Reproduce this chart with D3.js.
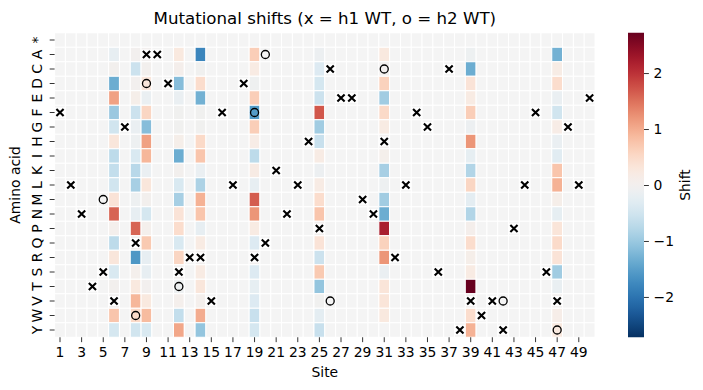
<!DOCTYPE html>
<html>
<head>
<meta charset="utf-8">
<script src="https://cdn.jsdelivr.net/npm/d3@7"></script>
<style>
  body { margin: 0; background: #fff; }
  text { font-family: "DejaVu Sans", sans-serif; fill: #000; }
</style>
</head>
<body>
<div id="chart"></div>
<script>
const width = 703, height = 390

const sites = [1, 2, 3, 4, 5, 6, 7, 8, 9, 10, 11, 12, 13, 14, 15, 16, 17, 18, 19, 20,
    21, 22, 23, 24, 25, 26, 27, 28, 29, 30, 31, 32, 33, 34, 35, 36, 37, 38, 39, 40,
    41, 42, 43, 44, 45, 46, 47, 48, 49, 50]
const siteTicks = [1, 3, 5, 7, 9, 11, 13, 15, 17, 19, 21, 23, 25, 27, 29, 31, 33, 35, 37, 39, 41, 43, 45, 47, 49]
const aminoAcids = ["*", "A", "C", "D", "E", "F", "G", "H", "I", "K", "L", "M", "N", "P", "Q", "R", "S", "T", "V", "W", "Y"]
const colorTicks = [-2, -1, 0, 1, 2]

// sites that have measured shifts, one column of values per site (rows in aminoAcids order)
const shiftSites = [6, 8, 9, 12, 14, 19, 25, 31, 39, 47]
const shiftValues = [
    [null, -0.2, 0.02, -1.35, 1.1, -1.0, -0.5, 0.3, -0.7, -0.65, -0.5, 0.35, 1.6, 0.05, -0.7, 0.3, -0.4, 0.02, 0, 0.75, -0.45],
    [null, 0, -0.55, 0, 0.1, -0.55, -0.15, -0.1, -0.4, -0.75, -0.9, -0.1, -0.2, 1.6, 0, -1.6, 0.05, 0.25, 0.9, 0.5, -0.5],
    [null, 0, 0.02, 0.3, -0.15, 0.55, -1.15, 1.1, 0.9, -0.15, 0.3, 0.02, -0.45, 0.05, 0.7, -0.2, -0.2, 0, 0.25, 0.85, -0.4],
    [null, 0.25, 0.07, -1.15, -0.15, -0.05, -0.03, 0.1, -1.35, 0.02, -0.4, -0.9, 0.35, 0.45, -0.4, 0.55, 0, -0.1, 0.05, -0.65, 1.05],
    [null, -1.8, -0.05, 0.45, -1.3, -0.05, -0.03, 0.5, 0.75, -0.15, -0.85, 0.95, 0.75, -0.2, 0.2, 0, 0.2, 0.3, 0.05, 1.0, -1.05],
    [null, 0.65, 0.2, -0.08, 0.65, -1.55, 0.65, 0.15, -0.7, 0.18, -0.2, 1.65, 1.2, 0.2, -0.35, 0, -0.35, -0.22, -0.35, -0.6, -0.45],
    [null, -0.12, -0.35, -0.45, -0.55, 1.7, -0.95, -0.6, 0.18, -0.12, 0.18, 0.45, 0.75, 0, 0.35, -0.55, 0.7, -1.05, -0.03, -0.25, -0.6],
    [null, 0.25, 0, 0.6, -0.95, 0.5, 0.2, 0, 0.06, -0.9, -0.1, -0.95, -1.35, 2.2, 0.6, 1.2, -0.15, 0.33, 0.32, 0.25, null],
    [null, -0.1, -1.35, 0.35, 0.2, 0.65, -0.12, 1.2, -0.22, -0.8, 0.55, -0.25, -0.8, 0.07, 0.45, 0.1, 0.2, 2.72, 0, 0.45, 0.95],
    [null, -1.3, 0.17, 0.45, -0.15, -0.5, 0.15, -0.15, -0.3, 0.75, 0.95, 0.1, -0.22, 0.32, 0.48, 0.35, -0.95, -0.18, 0, 0.12, 0.25]
]

// wildtype markers: [site, amino acid]
const h1WT = [[9, "A"], [10, "A"], [26, "C"], [37, "C"], [11, "D"], [18, "D"], [27, "E"], [28, "E"], [50, "E"],
    [1, "F"], [16, "F"], [34, "F"], [45, "F"], [7, "G"], [35, "G"], [48, "G"], [24, "H"], [31, "H"], [21, "K"],
    [2, "L"], [17, "L"], [23, "L"], [33, "L"], [44, "L"], [49, "L"], [29, "M"], [3, "N"], [22, "N"], [30, "N"],
    [25, "P"], [43, "P"], [8, "Q"], [20, "Q"], [13, "R"], [14, "R"], [19, "R"], [32, "R"],
    [5, "S"], [12, "S"], [36, "S"], [46, "S"], [4, "T"], [6, "V"], [15, "V"], [39, "V"], [41, "V"], [47, "V"],
    [40, "W"], [38, "Y"], [42, "Y"]]
const h2WT = [[20, "A"], [31, "C"], [9, "D"], [19, "F"], [5, "M"], [12, "T"], [26, "V"], [42, "V"], [8, "W"], [47, "Y"]]

const plot = { left: 54.6, right: 595, top: 32.75, bottom: 337.25 }
const cbar = { left: 628, right: 644 }
const vmax = 2.72

const svg = d3.select("#chart")
    .append("svg")
    .attr("width", width)
    .attr("height", height)

const x = d3.scaleBand().domain(sites).range([plot.left, plot.right])
const y = d3.scaleBand().domain(aminoAcids).range([plot.top, plot.bottom])
const color = d3.scaleSequential(t => d3.interpolateRdBu(1 - t)).domain([-vmax, vmax])

// flatten into cells
const cells = []
sites.forEach(s => {
    const k = shiftSites.indexOf(s)
    aminoAcids.forEach((aa, r) => {
        cells.push({ site: s, aa: aa, value: k < 0 ? null : shiftValues[k][r] })
    })
})

svg.append("g")
    .selectAll("rect")
    .data(cells)
    .enter().append("rect")
    .attr("x", d => x(d.site))
    .attr("y", d => y(d.aa))
    .attr("width", x.bandwidth())
    .attr("height", y.bandwidth())
    .attr("fill", d => d.value === null ? "#f4f4f4" : color(d.value))
    .attr("stroke", "#fff")
    .attr("stroke-width", 1)

// h1 WT markers (x with white box)
const xMark = svg.append("g")
    .selectAll("g")
    .data(h1WT)
    .enter().append("g")
    .attr("transform", d => `translate(${x(d[0]) + x.bandwidth() / 2},${y(d[1]) + y.bandwidth() / 2})`)
xMark.append("rect")
    .attr("x", -5).attr("y", -5).attr("width", 10).attr("height", 10)
    .attr("fill", "#fff")
xMark.append("path")
    .attr("d", "M-3.6,-3.6L3.6,3.6M-3.6,3.6L3.6,-3.6")
    .attr("stroke", "#000")
    .attr("stroke-width", 2.1)
    .attr("fill", "none")

// h2 WT markers (open circles)
svg.append("g")
    .selectAll("circle")
    .data(h2WT)
    .enter().append("circle")
    .attr("cx", d => x(d[0]) + x.bandwidth() / 2)
    .attr("cy", d => y(d[1]) + y.bandwidth() / 2)
    .attr("r", 4)
    .attr("fill", "none")
    .attr("stroke", "#000")
    .attr("stroke-width", 1.3)

// x-axis
const xAxis = svg.append("g")
    .attr("transform", `translate(0,${plot.bottom})`)
    .call(d3.axisBottom(x).tickValues(siteTicks).tickSize(4.9).tickPadding(4.6))
xAxis.select(".domain").remove()
xAxis.selectAll("line").attr("stroke", "#000").attr("stroke-width", 0.8)
xAxis.selectAll("text").attr("font-size", 13.9).attr("font-family", "DejaVu Sans").attr("fill", "#000")

// y-axis, labels turned on their side
const yAxis = svg.append("g")
    .attr("transform", `translate(${plot.left},0)`)
    .call(d3.axisLeft(y).tickSize(4.9))
yAxis.select(".domain").remove()
yAxis.selectAll("line").attr("stroke", "#000").attr("stroke-width", 0.8)
yAxis.selectAll("text")
    .attr("x", 0).attr("dy", 0)
    .attr("transform", "translate(-12.6,0) rotate(-90)")
    .style("text-anchor", "middle")
    .attr("font-size", 13.9).attr("font-family", "DejaVu Sans").attr("fill", "#000")

svg.append("text")
    .attr("x", (plot.left + plot.right) / 2)
    .attr("y", 377)
    .attr("text-anchor", "middle")
    .attr("font-size", 13.9)
    .text("Site")

svg.append("text")
    .attr("transform", `translate(20,${(plot.top + plot.bottom) / 2}) rotate(-90)`)
    .attr("text-anchor", "middle")
    .attr("font-size", 13.9)
    .text("Amino acid")

svg.append("text")
    .attr("x", (plot.left + plot.right) / 2)
    .attr("y", 24)
    .attr("text-anchor", "middle")
    .attr("font-size", 16.67)
    .text("Mutational shifts (x = h1 WT, o = h2 WT)")

// colorbar
const cScale = d3.scaleLinear().domain([-vmax, vmax]).range([plot.bottom, plot.top])
const grad = svg.append("defs").append("linearGradient")
    .attr("id", "cgrad")
    .attr("x1", 0).attr("x2", 0).attr("y1", 1).attr("y2", 0)
d3.range(0, 1.0001, 0.02).forEach(t => {
    grad.append("stop")
        .attr("offset", t)
        .attr("stop-color", color(-vmax + t * 2 * vmax))
})
svg.append("rect")
    .attr("x", cbar.left)
    .attr("y", plot.top)
    .attr("width", cbar.right - cbar.left)
    .attr("height", plot.bottom - plot.top)
    .attr("fill", "url(#cgrad)")

const cAxis = svg.append("g")
    .attr("transform", `translate(${cbar.right},0)`)
    .call(d3.axisRight(cScale).tickValues(colorTicks).tickSize(4.9).tickPadding(4.6)
        .tickFormat(d => d < 0 ? "\u2212" + Math.abs(d) : d))
cAxis.select(".domain").remove()
cAxis.selectAll("line").attr("stroke", "#000").attr("stroke-width", 0.8)
cAxis.selectAll("text").attr("font-size", 13.9).attr("font-family", "DejaVu Sans").attr("fill", "#000")

svg.append("text")
    .attr("transform", `translate(690,${(plot.top + plot.bottom) / 2}) rotate(-90)`)
    .attr("text-anchor", "middle")
    .attr("font-size", 13.9)
    .text("Shift")
</script>
</body>
</html>
